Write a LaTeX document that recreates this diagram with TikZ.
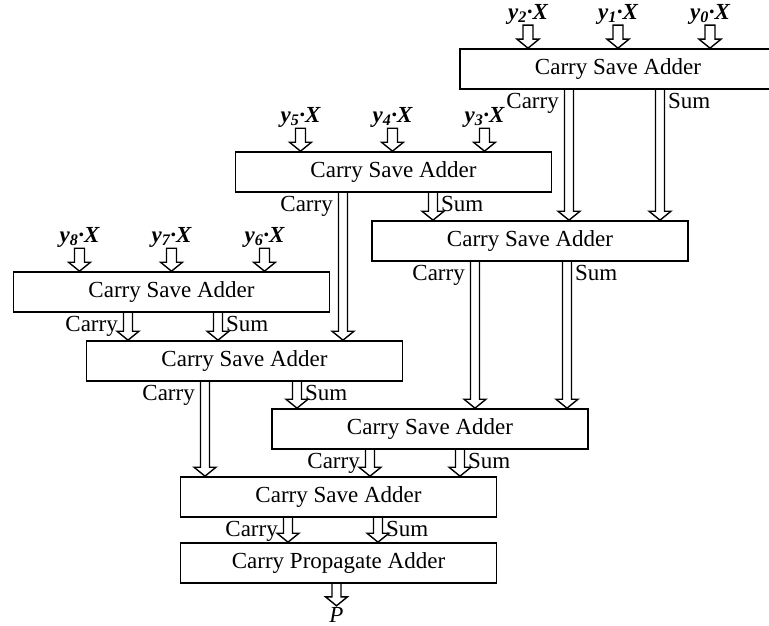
\documentclass[tikz,border=0pt]{standalone}
\usepackage{fontspec}
\setmainfont{Liberation Serif}
\usetikzlibrary{calc}
\usetikzlibrary{positioning}
\tikzset{
	adder/.style={rectangle, draw, line width=1.6pt, minimum width=316pt, minimum height=40pt, font=\fontsize{23}{27}\selectfont},
	tag/.style={inner sep=1pt, font=\fontsize{23}{27}\selectfont},
	input/.style={inner sep=1pt, anchor=south, font=\fontsize{23}{27}\selectfont\bfseries\itshape},
	hollow/.style={draw, line width=1.4pt, line join=miter, to path={let \p1=(\tikztostart), \p2=(\tikztotarget) in
		(\x1-4.5pt,\y1) -- (\x1-4.5pt,\y2+9pt) -- (\x1-11pt,\y2+9pt) -- (\x1,\y2) -- (\x1+11pt,\y2+9pt) -- (\x1+4.5pt,\y2+9pt) -- (\x1+4.5pt,\y1)}},
	hollowin/.style={draw, line width=1.4pt, line join=miter, to path={let \p1=(\tikztostart), \p2=(\tikztotarget) in
		(\x1-5pt,\y1) -- (\x1-5pt,\y2+9pt) -- (\x1-11pt,\y2+9pt) -- (\x1,\y2) -- (\x1+11pt,\y2+9pt) -- (\x1+5pt,\y2+9pt) -- (\x1+5pt,\y1) -- cycle}}
}
\begin{document}
\begin{tikzpicture}[x=1pt, y=-1pt]
\useasboundingbox (0,0) rectangle (769,626);

% adders
\node[adder] (csa1) at (618,69) {Carry Save Adder};
\node[adder] (csa2) at (393.5,172) {Carry Save Adder};
\node[adder] (csa3) at (530,241) {Carry Save Adder};
\node[adder] (csa4) at (171.5,292) {Carry Save Adder};
\node[adder] (csa5) at (244.5,361) {Carry Save Adder};
\node[adder] (csa6) at (430,429) {Carry Save Adder};
\node[adder] (csa7) at (338.5,497) {Carry Save Adder};
\node[adder] (cpa) at (338.5,563) {Carry Propagate Adder};

% partial products
\node[input] (y2) at ([xshift=-90pt, yshift=23pt]csa1.north) {y\textsubscript{2}·X};
\node[input] (y1) at ([xshift=0pt, yshift=23pt]csa1.north) {y\textsubscript{1}·X};
\node[input] (y0) at ([xshift=92pt, yshift=23pt]csa1.north) {y\textsubscript{0}·X};
\node[input] (y5) at ([xshift=-93pt, yshift=23pt]csa2.north) {y\textsubscript{5}·X};
\node[input] (y4) at ([xshift=-1pt, yshift=23pt]csa2.north) {y\textsubscript{4}·X};
\node[input] (y3) at ([xshift=91pt, yshift=23pt]csa2.north) {y\textsubscript{3}·X};
\node[input] (y8) at ([xshift=-92pt, yshift=23pt]csa4.north) {y\textsubscript{8}·X};
\node[input] (y7) at ([xshift=0pt, yshift=23pt]csa4.north) {y\textsubscript{7}·X};
\node[input] (y6) at ([xshift=93pt, yshift=23pt]csa4.north) {y\textsubscript{6}·X};

\node[input, anchor=north, font=\fontsize{23}{27}\selectfont\itshape] (p) at ([xshift=-2pt, yshift=-22pt]cpa.south) {P};

\draw[hollowin] (y2.south) to (csa1.north);
\draw[hollowin] (y1.south) to (csa1.north);
\draw[hollowin] (y0.south) to (csa1.north);
\draw[hollowin] (y5.south) to (csa2.north);
\draw[hollowin] (y4.south) to (csa2.north);
\draw[hollowin] (y3.south) to (csa2.north);
\draw[hollowin] (y8.south) to (csa4.north);
\draw[hollowin] (y7.south) to (csa4.north);
\draw[hollowin] (y6.south) to (csa4.north);

% carry and sum outputs
\draw[hollow] ([xshift=-49pt]csa1.south) to (csa3.north);
\draw[hollow] ([xshift=42pt]csa1.south) to (csa3.north);
\draw[hollow] ([xshift=-50.5pt]csa2.south) to (csa5.north);
\draw[hollow] ([xshift=39.5pt]csa2.south) to (csa3.north);
\draw[hollow] ([xshift=-55pt]csa3.south) to (csa6.north);
\draw[hollow] ([xshift=37pt]csa3.south) to (csa6.north);
\draw[hollow] ([xshift=-43.5pt]csa4.south) to (csa5.north);
\draw[hollow] ([xshift=46.5pt]csa4.south) to (csa5.north);
\draw[hollow] ([xshift=-39.5pt]csa5.south) to (csa7.north);
\draw[hollow] ([xshift=52.5pt]csa5.south) to (csa6.north);
\draw[hollow] ([xshift=-60pt]csa6.south) to (csa7.north);
\draw[hollow] ([xshift=30pt]csa6.south) to (csa7.north);
\draw[hollow] ([xshift=-50.5pt]csa7.south) to (cpa.north);
\draw[hollow] ([xshift=39.5pt]csa7.south) to (cpa.north);
\draw[hollow] ([xshift=-2pt]cpa.south) to (p.north);

% labels
\node[tag, anchor=north east] (c1) at ([xshift=-58pt, yshift=-2pt]csa1.south) {Carry};
\node[tag, anchor=north west] (s1) at ([xshift=49pt, yshift=-2pt]csa1.south) {Sum};
\node[tag, anchor=north east] (c2) at ([xshift=-59.5pt, yshift=-2pt]csa2.south) {Carry};
\node[tag, anchor=north west] (s2) at ([xshift=46.5pt, yshift=-2pt]csa2.south) {Sum};
\node[tag, anchor=north east] (c3) at ([xshift=-64pt, yshift=-2pt]csa3.south) {Carry};
\node[tag, anchor=north west] (s3) at ([xshift=44pt, yshift=-2pt]csa3.south) {Sum};
\node[tag, anchor=north east] (c4) at ([xshift=-52.5pt, yshift=-2pt]csa4.south) {Carry};
\node[tag, anchor=north west] (s4) at ([xshift=53.5pt, yshift=-2pt]csa4.south) {Sum};
\node[tag, anchor=north east] (c5) at ([xshift=-48.5pt, yshift=-2pt]csa5.south) {Carry};
\node[tag, anchor=north west] (s5) at ([xshift=59.5pt, yshift=-2pt]csa5.south) {Sum};
\node[tag, anchor=north east] (c6) at ([xshift=-69pt, yshift=-2pt]csa6.south) {Carry};
\node[tag, anchor=north west] (s6) at ([xshift=37pt, yshift=-2pt]csa6.south) {Sum};
\node[tag, anchor=north east] (c7) at ([xshift=-59.5pt, yshift=-2pt]csa7.south) {Carry};
\node[tag, anchor=north west] (s7) at ([xshift=46.5pt, yshift=-2pt]csa7.south) {Sum};

\end{tikzpicture}
\end{document}
